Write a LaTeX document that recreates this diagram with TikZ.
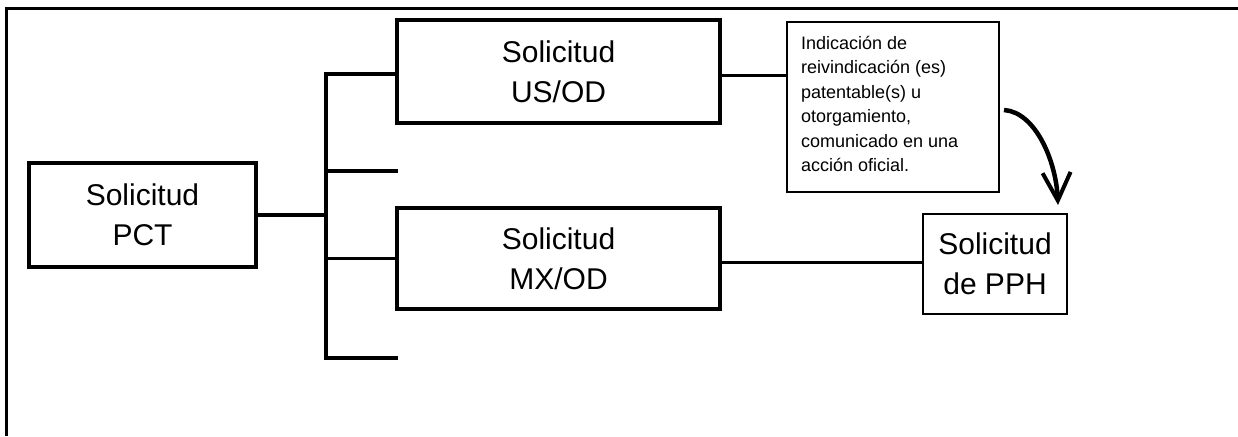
\documentclass[tikz,border=0pt]{standalone}
\usepackage{fontspec}
\setmainfont{Liberation Sans}
\usetikzlibrary{arrows.meta}
\begin{document}
\begin{tikzpicture}[x=1pt,y=-1pt,
  mainbox/.style={draw,line width=3.8pt,rectangle,inner sep=0pt,align=center,
    font=\fontsize{30}{40}\selectfont},
  thinbox/.style={draw,line width=2pt,rectangle,inner sep=0pt},
  conn/.style={line width=3.8pt}]
\useasboundingbox (0,0) rectangle (1238,436);
\draw[line width=3pt] (6,436) -- (6,9) -- (1238,9);
\node[mainbox,minimum width=227pt,minimum height=104pt] (PCT) at (142.5,215) {Solicitud\\PCT};
\node[mainbox,minimum width=323pt,minimum height=103pt] (US) at (558.5,71.5) {Solicitud\\US/OD};
\node[mainbox,minimum width=323pt,minimum height=101pt] (MX) at (558.5,258.5) {Solicitud\\MX/OD};
\node[thinbox,minimum width=212pt,minimum height=170pt,align=left,
  font=\fontsize{18}{24.5}\selectfont] (NOTE) at (893,107)
  {\hspace*{8pt}\parbox[c]{192pt}{\raggedright Indicación de\\reivindicación (es)\\patentable(s) u\\otorgamiento,\\comunicado en una\\acción oficial.\vspace*{6pt}}};
\node[thinbox,minimum width=144pt,minimum height=100pt,align=center,
  font=\fontsize{30}{40}\selectfont] (PPH) at (995,264) {Solicitud\\de PPH};
\coordinate (ttop) at (326,74);
\coordinate (tbot) at (326,358);
\coordinate (b2) at (398,171);
\coordinate (b4) at (398,358);
\coordinate (tmid) at (326,171);
\draw[conn] (PCT.east) -- (PCT.east -| ttop);
\draw[conn] (ttop -| US.west) -- (ttop) -- (tbot) -- (b4);
\draw[conn] (tmid) -- (b2);
\draw[conn] (MX.west -| ttop) -- (MX.west);
\draw[conn] ([yshift=-4pt]US.east) -- ([yshift=-4pt]US.east -| NOTE.west);
\draw[conn] ([yshift=-4pt]MX.east) -- ([yshift=-4pt]MX.east -| PPH.west);
\coordinate (atip) at (1058,205);
\draw[line width=4.5pt,-{Straight Barb[length=28pt,width=28pt,line width=4pt]}]
  ([xshift=4pt,yshift=-3pt]NOTE.east) .. controls (1035,112) and (1056,160) .. (atip);
\end{tikzpicture}
\end{document}
